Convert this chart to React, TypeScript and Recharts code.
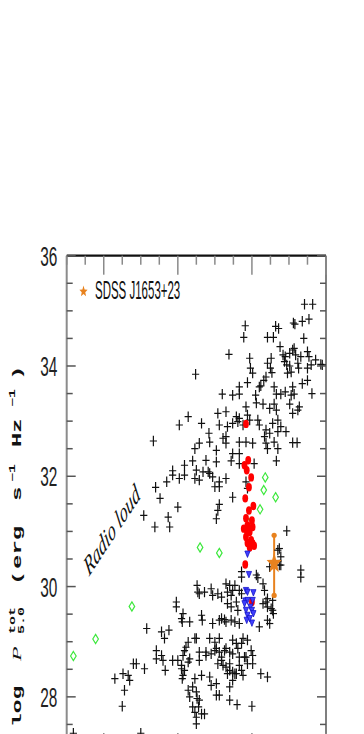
import React from 'react';
import { ScatterChart, Scatter, XAxis, YAxis, ErrorBar } from 'recharts';

// ---- axes ----
const X_DOMAIN: [number, number] = [41.5, 45];
const Y_DOMAIN: [number, number] = [27, 36];
const xTicks = [41.5, 41.75, 42, 42.25, 42.5, 42.75, 43, 43.25, 43.5, 43.75, 44, 44.25, 44.5, 44.75, 45];
const yTicks = [27, 27.5, 28, 28.5, 29, 29.5, 30, 30.5, 31, 31.5, 32, 32.5, 33, 33.5, 34, 34.5, 35, 35.5, 36];
const yTickLabels = [28, 30, 32, 34, 36];
const legendLabel = 'SDSS J1653+23';
const annotation = 'Radio loud';

// ---- data: [x, log P] ----
const blackPts: [number, number][] = [
  [43.24,33.85],[43.69,34.21],[43.91,34.73],[43.89,34.52],[43.60,33.49],[43.74,33.47],[43.83,33.62],[43.83,33.49],[43.94,33.70],[43.97,34.14],[43.98,33.96],[44.01,33.87],[44.05,33.47],[44.10,33.62],[44.12,33.64],[44.16,33.74],[44.19,33.80],[44.21,34.52],[44.29,34.52],[44.21,34.05],[44.26,34.14],[44.25,33.96],[44.27,33.88],[44.32,34.72],[44.36,34.68],[44.38,34.35],[44.30,33.62],[44.33,33.49],[44.39,33.49],[44.45,33.53],[44.42,34.20],[44.45,34.17],[44.44,34.08],[44.47,34.02],[44.48,33.87],[44.51,34.00],[44.53,33.89],[44.55,33.62],[44.53,33.47],[44.57,33.49],[44.56,34.78],[44.58,34.76],[44.57,34.32],[44.59,34.20],[44.62,34.05],[44.63,33.96],[44.68,34.81],[44.70,34.50],[44.71,35.12],[44.82,35.12],[44.77,34.85],[44.66,34.17],[44.75,34.26],[44.77,34.17],[44.75,33.96],[44.80,34.02],[44.68,33.68],[44.75,33.74],[44.81,33.50],[44.86,34.11],[44.93,34.03],[44.95,34.02],[44.51,34.23],[44.55,34.29],
  [43.92,33.26],[44.06,33.33],[44.15,33.31],[44.24,33.23],[44.30,33.31],[44.33,33.20],[44.51,33.31],[44.55,33.14],[44.62,33.20],[44.64,33.26],[43.54,33.14],[43.65,33.17],[43.79,33.08],[43.83,33.05],[43.94,33.11],[43.97,33.02],[43.14,33.08],[43.02,32.93],[43.32,32.96],[43.56,32.93],[43.67,32.90],[43.74,32.96],[43.81,32.99],[43.88,32.93],[44.08,33.02],[44.10,32.93],[44.19,32.84],[44.24,32.78],[44.28,32.96],[44.35,33.02],[44.39,32.90],[44.46,32.81],[44.35,32.81],[43.42,32.78],[43.43,32.62],[43.61,32.69],[43.65,32.72],[42.67,32.64],[43.29,32.60],[43.23,32.50],[43.52,32.47],[43.65,32.60],[43.83,32.62],[43.92,32.62],[44.01,32.60],[44.17,32.72],[44.19,32.60],[44.21,32.50],[44.30,32.62],[44.35,32.50],[44.55,32.61],[44.61,32.61],[43.74,32.41],[43.83,32.41],[43.20,32.28],[43.38,32.29],[43.52,32.26],[43.72,32.28],[43.83,32.23],[44.03,32.23],[44.33,32.28],
  [43.09,32.20],[43.25,32.11],[43.34,32.08],[43.41,32.08],[43.43,32.05],[42.93,32.10],[42.93,32.02],[43.02,31.96],[43.09,32.02],[43.23,31.96],[43.29,31.93],[43.47,31.99],[43.56,31.90],[43.65,31.96],[42.85,31.90],[42.70,31.80],[42.76,31.60],[43.50,31.81],[43.56,31.81],[43.74,31.62],[43.92,31.90],[43.94,31.78],[43.56,31.49],[43.54,31.38],[43.00,31.44],[42.87,31.26],[42.89,31.08],[42.54,31.29],[42.69,31.08],[43.52,31.23],[44.47,31.01],[44.37,30.69],[44.39,30.54],[44.35,30.66],
  [43.86,30.27],[43.86,30.17],[44.06,30.21],[44.08,30.16],[44.15,30.05],[44.17,29.93],[44.37,30.39],[44.66,30.30],[44.66,30.17],[43.74,29.93],[43.83,29.93],[43.86,29.87],[43.26,30.02],[43.27,29.90],[43.29,29.87],[43.36,29.90],[43.45,29.96],[43.47,29.84],[43.54,29.87],[43.59,29.81],[43.65,30.05],[43.70,30.02],[43.67,29.90],[43.72,29.84],[43.77,30.02],[44.24,30.36],[44.39,30.39],
  [42.98,29.72],[42.98,29.63],[43.07,29.51],[43.05,29.42],[43.06,29.36],[43.16,29.36],[43.32,29.48],[43.33,29.39],[43.47,29.33],[43.56,29.39],[43.59,29.42],[43.63,29.40],[43.65,29.36],[43.72,29.39],[43.77,29.36],[43.83,29.33],[43.67,29.69],[43.72,29.63],[43.79,29.72],[43.81,29.57],[44.15,29.69],[44.19,29.72],[44.21,29.63],[44.28,29.57],[44.29,29.51],[44.10,29.27],[44.24,29.33],[44.21,29.78],[44.28,29.75],[44.26,29.60],[44.21,29.39],
  [42.58,29.24],[42.78,29.18],[42.82,29.06],[42.88,29.21],[42.71,28.84],[42.71,28.69],[42.78,28.75],[42.80,28.66],[42.83,28.48],[42.93,28.66],[43.00,28.66],[43.05,28.51],[43.07,28.39],[43.09,28.84],[43.11,28.90],[43.14,28.99],[43.23,29.06],[43.25,29.06],[43.29,28.81],[43.29,28.66],[43.16,28.69],[43.14,28.63],[43.43,29.06],[43.50,28.99],[43.56,29.06],[43.52,28.88],[43.56,28.81],[43.59,28.72],[43.38,28.81],[43.45,28.78],[43.65,28.88],[43.70,28.81],[43.74,28.78],[43.81,28.88],[43.83,28.72],[43.74,29.03],[43.79,28.97],[43.86,28.97],[43.88,29.06],[43.94,29.03],[43.99,28.84],[44.01,28.75],[43.92,28.72],[44.01,28.60],[43.54,28.60],[43.61,28.57],[43.65,28.54],[43.70,28.48],[43.67,28.42],[43.74,28.45],[43.79,28.42],[43.86,28.48],[43.88,28.39],[43.43,28.36],[43.32,28.39],[43.23,28.33],[43.20,28.18],[43.70,28.18],[44.12,28.42],[44.21,28.36],[43.07,28.75],[43.05,28.57],[43.09,28.48],[43.06,28.33],[43.45,28.21],[43.52,28.24],[43.77,28.42],[43.74,28.30],[43.38,28.75],[43.50,28.84],[43.59,28.66],[43.63,28.84],[43.70,28.60],[43.83,28.57],[43.90,28.72],[43.94,28.60],
  [42.15,28.33],[42.26,28.42],[42.33,28.39],[42.35,28.30],[42.28,28.12],[42.40,28.60],[42.44,28.60],[42.55,28.51],[42.25,27.83],
  [43.14,28.12],[43.16,28.00],[43.25,28.09],[43.26,27.97],[43.29,27.94],[43.28,27.82],[43.20,27.82],[43.23,27.72],[43.25,27.63],[43.25,27.51],[43.32,27.69],[43.36,27.69],[43.52,28.03],[43.56,28.03],[43.70,27.94],[43.80,27.86],[44.00,27.83],[41.59,27.34],[42.50,27.34],
];

const redPts: [number, number][] = [
  [43.92,32.95],[43.95,32.29],[43.90,32.20],[43.93,32.11],[43.99,31.98],[43.96,31.80],[43.91,31.60],[43.96,31.38],[44.02,31.46],[43.92,31.24],[44.00,31.20],[43.94,31.11],[44.01,31.08],[43.97,30.99],[43.92,30.90],[43.99,30.84],[43.94,30.79],[44.01,30.78],[43.97,30.71],[43.93,31.02],[43.89,31.05],[44.03,30.74],[43.91,30.40],[44.00,29.72],
];

const bluePts: [number, number][] = [
  [43.94,30.59],[43.96,30.22],[43.92,29.93],[43.94,29.90],[44.02,29.89],[43.91,29.74],[43.94,29.75],[43.98,29.63],[44.00,29.57],[44.02,29.51],[43.92,29.57],[43.94,29.48],[43.93,29.39],[44.00,29.34],[43.90,29.69],[44.01,29.75],[43.97,29.42],
];

const greenPts: [number, number][] = [
  [44.18,31.98],[44.16,31.75],[44.32,31.62],[44.11,31.40],[43.96,31.15],[43.30,30.71],[43.56,30.61],[42.38,29.64],[41.89,29.05],[41.59,28.74],
];

// SDSS J1653+23: x, y, lower error, upper error
const targetX = [44.3];
const targetY = [30.42];
const targetErrLow = [0.58];
const targetErrHigh = [0.51];

const toObjs = (pts: [number, number][]) => pts.map(([x, y]) => ({ x, y }));
const blackData = toObjs(blackPts);
const redData = toObjs(redPts);
const blueData = toObjs(bluePts);
const greenData = toObjs(greenPts);
const targetData = targetX.map((x, i) => ({ x, y: targetY[i], err: [targetErrLow[i], targetErrHigh[i]] }));
const targetEnds = targetX.flatMap((x, i) => [
  { x, y: targetY[i] + targetErrHigh[i] },
  { x, y: targetY[i] - targetErrLow[i] },
]);

const ORANGE = '#e8821e';

const starPath = (cx: number, cy: number, R: number, r: number, sx: number) => {
  let d = '';
  for (let i = 0; i < 10; i++) {
    const rad = i % 2 === 0 ? R : r;
    const a = -Math.PI / 2 + (i * Math.PI) / 5;
    const px = cx + Math.cos(a) * rad * sx;
    const py = cy + Math.sin(a) * rad;
    d += (i === 0 ? 'M' : 'L') + px.toFixed(2) + ',' + py.toFixed(2);
  }
  return d + 'Z';
};

const PlusShape = (p: any) => (
  <g>
    <line x1={p.cx - 3.6} x2={p.cx + 3.6} y1={p.cy} y2={p.cy} stroke="#111" strokeWidth={1.2} />
    <line x1={p.cx} x2={p.cx} y1={p.cy - 5.2} y2={p.cy + 5.2} stroke="#111" strokeWidth={1.2} />
  </g>
);
const RedShape = (p: any) => <ellipse cx={p.cx} cy={p.cy} rx={2.9} ry={4.2} fill="#ff0000" />;
const BlueShape = (p: any) => (
  <polygon
    points={`${p.cx - 2.6},${p.cy - 3} ${p.cx + 2.6},${p.cy - 3} ${p.cx},${p.cy + 3.4}`}
    fill="#4040ff"
    stroke="#1414c8"
    strokeWidth={0.8}
  />
);
const GreenShape = (p: any) => (
  <polygon
    points={`${p.cx},${p.cy - 4.6} ${p.cx + 2.8},${p.cy} ${p.cx},${p.cy + 4.6} ${p.cx - 2.8},${p.cy}`}
    fill="none"
    stroke="#3ee83e"
    strokeWidth={1.2}
  />
);
const StarShape = (p: any) => <path d={starPath(p.cx, p.cy, 11, 4.6, 0.72)} fill={ORANGE} />;
const EndShape = (p: any) => <circle cx={p.cx} cy={p.cy} r={2.6} fill={ORANGE} />;

const isInt = (v: number) => Math.abs(v - Math.round(v)) < 1e-6;

const TopTick = (p: any) => {
  const major = isInt(p.payload.value);
  return <line x1={p.x} x2={p.x} y1={p.y} y2={p.y + (major ? 19 : 9)} stroke="#8a8a8a" strokeWidth={1.5} />;
};
const BottomTick = (p: any) => {
  const major = isInt(p.payload.value);
  return <line x1={p.x} x2={p.x} y1={p.y} y2={p.y - (major ? 19 : 9)} stroke="#8a8a8a" strokeWidth={1.5} />;
};
const LeftTick = (p: any) => {
  const v = p.payload.value;
  const major = isInt(v) && Math.round(v) % 2 === 0;
  return (
    <g>
      <line x1={p.x} x2={p.x + (major ? 9 : 6)} y1={p.y} y2={p.y} stroke="#555" strokeWidth={1.5} />
      {major && yTickLabels.includes(Math.round(v)) ? (
        <text
          transform={`translate(${p.x - 9.4},${p.y + 10}) scale(0.55,1)`}
          textAnchor="end"
          fontFamily="Liberation Sans, Arial, sans-serif"
          fontSize={28}
          fill="#222"
        >
          {Math.round(v)}
        </text>
      ) : null}
    </g>
  );
};
const RightTick = (p: any) => {
  const v = p.payload.value;
  const major = isInt(v) && Math.round(v) % 2 === 0;
  return <line x1={p.x} x2={p.x - (major ? 9 : 6)} y1={p.y} y2={p.y} stroke="#555" strokeWidth={1.5} />;
};

const W = 340;
const H = 754;

export default function App() {
  return (
    <div style={{ position: 'relative', width: W, height: H }}>
      <ScatterChart width={W} height={H} margin={{ top: 237.7, right: 12, bottom: 0, left: 8.7 }}>
        <XAxis
          xAxisId="bottom"
          type="number"
          dataKey="x"
          orientation="bottom"
          domain={X_DOMAIN}
          ticks={xTicks}
          interval={0}
          allowDataOverflow
          height={10}
          tickSize={0}
          tickMargin={0}
          tick={BottomTick}
          axisLine={{ stroke: '#222', strokeWidth: 2 }}
        />
        <XAxis
          xAxisId="top"
          type="number"
          dataKey="x"
          orientation="top"
          domain={X_DOMAIN}
          ticks={xTicks}
          interval={0}
          allowDataOverflow
          height={10}
          tickSize={0}
          tickMargin={0}
          tick={TopTick}
          axisLine={{ stroke: '#111', strokeWidth: 2.2 }}
        />
        <YAxis
          yAxisId="left"
          type="number"
          dataKey="y"
          orientation="left"
          domain={Y_DOMAIN}
          ticks={yTicks}
          interval={0}
          allowDataOverflow
          width={50}
          tickSize={0}
          tickMargin={0}
          tick={LeftTick}
          axisLine={{ stroke: '#8c8c8c', strokeWidth: 2 }}
        />
        <YAxis
          yAxisId="right"
          type="number"
          dataKey="y"
          orientation="right"
          domain={Y_DOMAIN}
          ticks={yTicks}
          interval={0}
          allowDataOverflow
          width={10}
          tickSize={0}
          tickMargin={0}
          tick={RightTick}
          axisLine={{ stroke: '#555', strokeWidth: 1.5 }}
        />
        <Scatter xAxisId="bottom" yAxisId="left" data={blackData} shape={PlusShape} isAnimationActive={false} />
        <Scatter xAxisId="bottom" yAxisId="left" data={greenData} shape={GreenShape} isAnimationActive={false} />
        <Scatter xAxisId="bottom" yAxisId="left" data={redData} shape={RedShape} isAnimationActive={false} />
        <Scatter xAxisId="bottom" yAxisId="left" data={blueData} shape={BlueShape} isAnimationActive={false} />
        <Scatter xAxisId="bottom" yAxisId="left" data={targetEnds} shape={EndShape} isAnimationActive={false} />
        <Scatter xAxisId="bottom" yAxisId="left" data={targetData} shape={StarShape} isAnimationActive={false}>
          <ErrorBar dataKey="err" direction="y" width={0} stroke={ORANGE} strokeWidth={2} isAnimationActive={false} />
        </Scatter>
      </ScatterChart>
      <svg
        width={W}
        height={H}
        style={{ position: 'absolute', left: 0, top: 0, pointerEvents: 'none', overflow: 'visible' }}
      >
        {/* legend */}
        <path d={starPath(75.5, 283.5, 6, 2.6, 0.72)} fill={ORANGE} />
        <text
          transform="translate(87,291) scale(0.46,1)"
          fontFamily="Liberation Sans, Arial, sans-serif"
          fontSize={25}
          fill="#111"
        >
          {legendLabel}
        </text>
        {/* annotation */}
        <text
          transform="translate(107,529) scale(0.55,1) rotate(-40)"
          textAnchor="middle"
          fontFamily="Liberation Serif, serif"
          fontStyle="italic"
          fontSize={28}
          fill="#111"
        >
          {annotation}
        </text>
        {/* y-axis label */}
        <g
          transform="translate(12.7,719) scale(0.56,1) rotate(-90)"
          fontFamily="Liberation Mono, DejaVu Sans Mono, monospace"
          fontWeight="bold"
          fill="#111"
        >
          <text x={0} y={0} fontSize={23}>log</text>
          <text x={66} y={0} fontSize={24} fontFamily="Liberation Serif, serif" fontStyle="italic" fontWeight="normal">P</text>
          <text x={93} y={-10} fontSize={15}>tot</text>
          <text x={93} y={6} fontSize={15}>5.0</text>
          <text x={142} y={0} fontSize={24}>(</text>
          <text x={158} y={0} fontSize={24}>erg</text>
          <text x={226} y={0} fontSize={24}>s</text>
          <text x={245} y={-10} fontSize={15}>−1</text>
          <text x={280} y={0} fontSize={24}>Hz</text>
          <text x={320} y={-10} fontSize={15}>−1</text>
          <text x={347} y={0} fontSize={24}>)</text>
        </g>
      </svg>
    </div>
  );
}
